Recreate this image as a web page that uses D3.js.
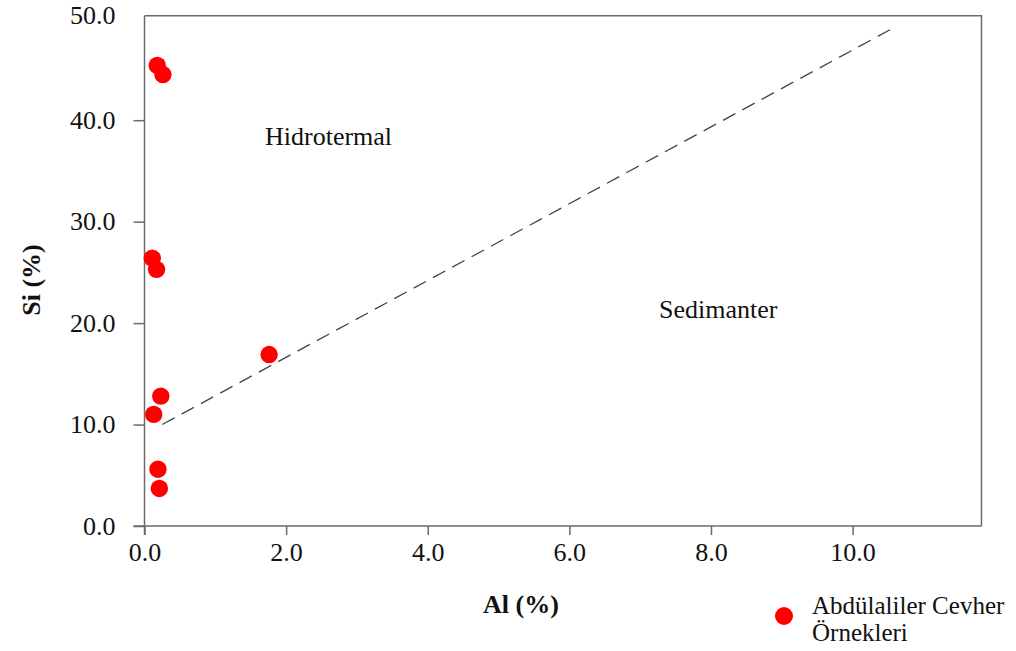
<!DOCTYPE html>
<html><head><meta charset="utf-8">
<script src="https://cdn.jsdelivr.net/npm/d3@7"></script>
<style>body{margin:0;background:#fff}svg{display:block}text{font-family:"Liberation Serif","Times New Roman",serif;fill:#111}</style>
</head><body>
<svg id="c" width="1016" height="651"></svg>
<script>
const alValues = [0.18, 0.26, 0.11, 0.17, 1.76, 0.23, 0.13, 0.19, 0.21];
const siValues = [45.4, 44.5, 26.4, 25.3, 16.9, 12.8, 11.0, 5.6, 3.7];
const xTicks = [0, 2, 4, 6, 8, 10];
const yTicks = [0, 10, 20, 30, 40, 50];
const boundaryAl = [0.25, 10.55];
const boundarySi = [10, 49];
const seriesName = ["Abdülaliler Cevher", "Örnekleri"];

const svg = d3.select("#c");
const L = 144.5, R = 981.5, T = 15.7, B = 526;
const x = d3.scaleLinear().domain([0, 11.82]).range([L, R]);
const y = d3.scaleLinear().domain([0, 50.3]).range([B, T]);
const axisColor = "#6b6b6b";
const fs = 26;

svg.append("path").attr("d", `M${L},${T}H${R}V${B}`).attr("fill","none").attr("stroke",axisColor).attr("stroke-width",1.5);

const gx = svg.append("g").attr("transform", `translate(0,${B})`)
  .call(d3.axisBottom(x).tickValues(xTicks).tickFormat(d3.format(".1f")).tickSizeInner(9).tickSizeOuter(0).tickPadding(8));
const gy = svg.append("g").attr("transform", `translate(${L},0)`)
  .call(d3.axisLeft(y).tickValues(yTicks).tickFormat(d3.format(".1f")).tickSizeInner(11).tickSizeOuter(0).tickPadding(18));
[gx, gy].forEach(g => {
  g.select(".domain").remove();
  g.selectAll("line").attr("stroke", axisColor).attr("stroke-width", 1.5);
  g.selectAll("text").attr("font-size", fs).attr("fill", "#111").style("font-family", '"Liberation Serif",serif');
});
gy.selectAll(".tick").filter(d => d === 50).select("line").remove();
gy.selectAll(".tick").filter(d => d === 50).select("text").attr("dy", "0.2em");
svg.append("line").attr("x1", L - 11).attr("x2", R).attr("y1", B).attr("y2", B).attr("stroke", axisColor).attr("stroke-width", 1.5);
svg.append("line").attr("x1", L).attr("x2", L).attr("y1", T).attr("y2", B + 9).attr("stroke", axisColor).attr("stroke-width", 1.5);

svg.append("line")
  .attr("x1", x(boundaryAl[0])).attr("y1", y(boundarySi[0]))
  .attr("x2", x(boundaryAl[1])).attr("y2", y(boundarySi[1]))
  .attr("stroke", "#444").attr("stroke-width", 1.3).attr("stroke-dasharray", "14,8");

svg.append("text").attr("x", 265).attr("y", 145).attr("font-size", fs).text("Hidrotermal");
svg.append("text").attr("x", 659).attr("y", 318).attr("font-size", fs).text("Sedimanter");

svg.append("g").selectAll("circle").data(alValues.map((a, i) => [a, siValues[i]])).join("circle")
  .attr("cx", d => x(d[0])).attr("cy", d => y(d[1])).attr("r", 8.7).attr("fill", "#ff0000");

svg.append("text").attr("x", 521).attr("y", 613).attr("text-anchor", "middle").attr("font-size", fs).attr("font-weight", "bold").text("Al (%)");
svg.append("text").attr("transform", "translate(40,280) rotate(-90)").attr("text-anchor", "middle").attr("font-size", fs).attr("font-weight", "bold").text("Si (%)");

svg.append("circle").attr("cx", 784).attr("cy", 616).attr("r", 9).attr("fill", "#ff0000");
svg.append("text").attr("x", 812).attr("y", 614).attr("font-size", 25).text(seriesName[0]);
svg.append("text").attr("x", 812).attr("y", 641).attr("font-size", 25).text(seriesName[1]);
</script>
</body></html>
